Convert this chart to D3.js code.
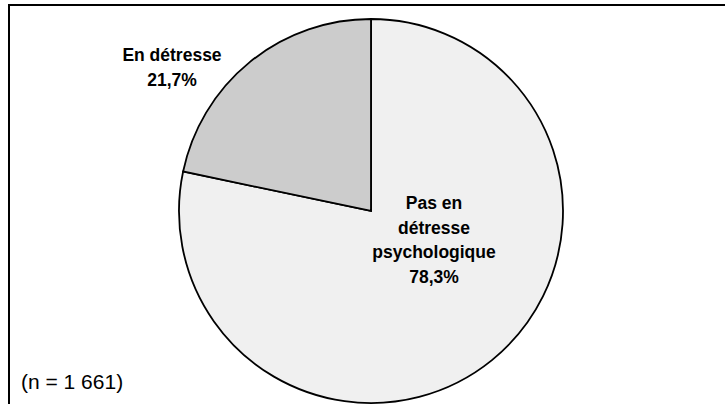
<!DOCTYPE html>
<html>
<head>
<meta charset="utf-8">
<script src="https://d3js.org/d3.v7.min.js"></script>
<style>
  body { margin: 0; background: #fff; }
  svg { display: block; }
  text { font-family: "Liberation Sans", Arial, sans-serif; fill: #000; }
</style>
</head>
<body>
<div id="chart"></div>
<script>
// donnees
var categories = ["Pas en détresse psychologique", "En détresse"];
var values = [78.3, 21.7];
var labelLines = [["Pas en", "détresse", "psychologique", "78,3%"], ["En détresse", "21,7%"]];
var note = "(n = 1 661)";

var w = 725, h = 404;
var cx = 371, cy = 211, r = 192;

var svg = d3.select("#chart").append("svg")
  .attr("width", w)
  .attr("height", h);

// cadre (ouvert a droite et en bas)
svg.append("path")
  .attr("d", "M9," + h + "V5H" + w)
  .attr("fill", "none")
  .attr("stroke", "#000")
  .attr("stroke-width", 2);

var colors = d3.scaleOrdinal().domain(categories).range(["#f0f0f0", "#cccccc"]);

var pie = d3.pie().sort(null).value(function(d) { return d; });
var arc = d3.arc().innerRadius(0).outerRadius(r);

var g = svg.append("g").attr("transform", "translate(" + cx + "," + cy + ")");

g.selectAll("path.slice")
  .data(pie(values))
  .enter().append("path")
  .attr("class", "slice")
  .attr("d", arc)
  .attr("fill", function(d, i) { return colors(categories[i]); })
  .attr("stroke", "#000")
  .attr("stroke-width", 1.8)
  .attr("stroke-linejoin", "miter");

// etiquettes
var labelPos = [[63, -2], [-199, -150]];
var lineH = 24.6;
labelLines.forEach(function(lines, i) {
  var t = g.append("text")
    .attr("text-anchor", "middle")
    .style("font-weight", "bold")
    .style("font-size", "17.5px");
  lines.forEach(function(l, j) {
    t.append("tspan")
      .attr("x", labelPos[i][0])
      .attr("y", labelPos[i][1] + j * lineH)
      .text(l);
  });
});

svg.append("text")
  .attr("x", 21)
  .attr("y", 389)
  .style("font-size", "21px")
  .text(note);
</script>
</body>
</html>
